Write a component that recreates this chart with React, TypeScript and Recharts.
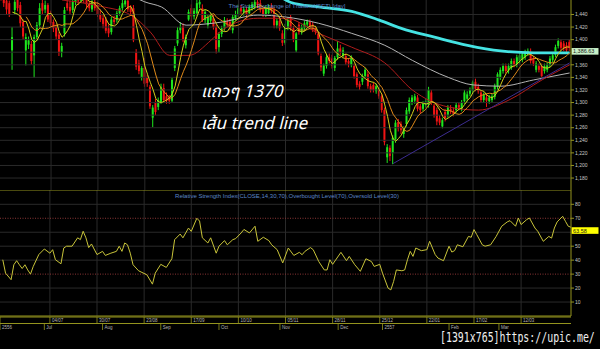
import { ComposedChart, Bar, Line, XAxis, YAxis, ReferenceLine } from "recharts";

// daily SET candles, one entry per trading day
const opens = [
  1480, 1470, 1462, 1458, 1383, 1447, 1465, 1455, 1428, 1383,
  1392, 1393, 1375, 1404, 1423, 1458, 1448, 1455, 1442, 1428,
  1420, 1408, 1380, 1410, 1458, 1452, 1447, 1460, 1468, 1462,
  1470, 1465, 1456, 1448, 1460, 1455, 1440, 1434, 1432, 1418,
  1412, 1432, 1431, 1442, 1450, 1456, 1462, 1450, 1450, 1380,
  1362, 1339, 1355, 1340, 1325, 1276, 1301, 1293, 1301, 1323,
  1310, 1308, 1303, 1355, 1394, 1415, 1421, 1391, 1432, 1450,
  1437, 1442, 1456, 1450, 1431, 1423, 1430, 1434, 1420, 1388,
  1409, 1418, 1430, 1428, 1415, 1434, 1440, 1450, 1444, 1448,
  1442, 1450, 1452, 1460, 1458, 1448, 1440, 1442, 1452, 1447,
  1423, 1430, 1410, 1395, 1420, 1436, 1418, 1383, 1424, 1412,
  1418, 1424, 1428, 1424, 1418, 1409, 1374, 1346, 1358, 1372,
  1370, 1355, 1372, 1386, 1374, 1374, 1366, 1360, 1358, 1345,
  1330, 1333, 1342, 1345, 1326, 1328, 1318, 1320, 1310, 1288,
  1213, 1228, 1220, 1241, 1269, 1266, 1250, 1266, 1286, 1300,
  1303, 1308, 1294, 1290, 1296, 1296, 1316, 1295, 1288, 1275,
  1262, 1285, 1280, 1290, 1287, 1288, 1296, 1290, 1302, 1306,
  1314, 1318, 1333, 1325, 1316, 1304, 1308, 1302, 1304, 1309,
  1325, 1340, 1350, 1358, 1351, 1355, 1366, 1361, 1366, 1368,
  1372, 1378, 1380, 1370, 1352, 1358, 1358, 1350, 1352, 1360,
  1368, 1376, 1390, 1396, 1394, 1391, 1396,
];
const highs = [
  1495, 1482, 1470, 1462, 1420, 1470, 1475, 1460, 1432, 1410,
  1405, 1398, 1408, 1428, 1458, 1465, 1462, 1458, 1446, 1432,
  1424, 1412, 1395, 1452, 1466, 1462, 1468, 1475, 1478, 1480,
  1478, 1470, 1462, 1464, 1466, 1460, 1448, 1440, 1436, 1424,
  1436, 1438, 1446, 1454, 1465, 1468, 1466, 1455, 1455, 1385,
  1368, 1358, 1371, 1345, 1328, 1296, 1306, 1308, 1330, 1330,
  1316, 1312, 1340, 1390, 1420, 1428, 1426, 1408, 1448, 1456,
  1450, 1465, 1466, 1456, 1448, 1440, 1442, 1440, 1424, 1412,
  1422, 1436, 1434, 1433, 1440, 1446, 1456, 1455, 1452, 1452,
  1456, 1460, 1468, 1465, 1464, 1452, 1454, 1456, 1458, 1452,
  1434, 1434, 1415, 1425, 1436, 1440, 1422, 1412, 1428, 1424,
  1430, 1432, 1432, 1428, 1422, 1412, 1378, 1362, 1376, 1378,
  1376, 1374, 1398, 1392, 1388, 1378, 1370, 1375, 1362, 1348,
  1334, 1346, 1356, 1350, 1330, 1332, 1330, 1324, 1314, 1292,
  1234, 1232, 1248, 1272, 1274, 1270, 1262, 1292, 1308, 1312,
  1314, 1312, 1298, 1302, 1306, 1325, 1320, 1298, 1292, 1280,
  1276, 1290, 1296, 1296, 1292, 1300, 1300, 1304, 1320, 1318,
  1324, 1335, 1338, 1330, 1320, 1316, 1312, 1312, 1314, 1330,
  1348, 1356, 1362, 1362, 1362, 1370, 1370, 1376, 1379, 1380,
  1384, 1386, 1386, 1374, 1366, 1362, 1362, 1362, 1364, 1374,
  1378, 1392, 1402, 1400, 1398, 1396, 1400,
];
const lows = [
  1462, 1452, 1440, 1436, 1352, 1440, 1445, 1420, 1400, 1359,
  1385, 1360, 1339, 1398, 1418, 1440, 1442, 1428, 1422, 1412,
  1400, 1374, 1372, 1405, 1446, 1440, 1442, 1455, 1455, 1458,
  1458, 1450, 1445, 1444, 1446, 1436, 1428, 1418, 1410, 1404,
  1408, 1424, 1427, 1438, 1446, 1452, 1444, 1440, 1396, 1352,
  1345, 1335, 1325, 1325, 1290, 1261, 1280, 1288, 1298, 1300,
  1298, 1298, 1300, 1350, 1390, 1410, 1396, 1386, 1430, 1425,
  1432, 1438, 1450, 1428, 1426, 1418, 1426, 1416, 1378, 1380,
  1404, 1414, 1420, 1415, 1410, 1430, 1436, 1440, 1438, 1434,
  1438, 1446, 1448, 1450, 1443, 1436, 1436, 1438, 1442, 1418,
  1418, 1414, 1390, 1392, 1415, 1414, 1396, 1380, 1408, 1408,
  1414, 1420, 1416, 1412, 1408, 1375, 1350, 1342, 1354, 1362,
  1354, 1350, 1368, 1376, 1370, 1360, 1356, 1356, 1338, 1324,
  1320, 1328, 1338, 1322, 1316, 1316, 1314, 1306, 1284, 1232,
  1204, 1207, 1202, 1236, 1254, 1250, 1244, 1262, 1282, 1296,
  1298, 1286, 1282, 1286, 1292, 1292, 1296, 1276, 1264, 1264,
  1259, 1270, 1276, 1282, 1278, 1284, 1288, 1286, 1298, 1302,
  1310, 1314, 1318, 1314, 1300, 1300, 1293, 1298, 1300, 1305,
  1320, 1336, 1346, 1346, 1346, 1352, 1356, 1356, 1362, 1364,
  1368, 1374, 1362, 1358, 1348, 1348, 1338, 1346, 1348, 1356,
  1364, 1372, 1386, 1383, 1382, 1380, 1382,
];
const closes = [
  1468, 1458, 1448, 1440, 1404, 1460, 1450, 1426, 1405, 1404,
  1399, 1366, 1404, 1423, 1450, 1446, 1455, 1432, 1426, 1418,
  1405, 1380, 1390, 1447, 1450, 1445, 1460, 1468, 1462, 1470,
  1465, 1456, 1450, 1460, 1450, 1440, 1432, 1425, 1414, 1410,
  1432, 1428, 1442, 1450, 1458, 1462, 1448, 1444, 1399, 1357,
  1350, 1355, 1330, 1331, 1294, 1292, 1285, 1304, 1325, 1304,
  1303, 1303, 1336, 1386, 1415, 1420, 1399, 1404, 1444, 1437,
  1446, 1458, 1460, 1431, 1444, 1436, 1438, 1420, 1385, 1409,
  1418, 1431, 1424, 1420, 1436, 1440, 1450, 1445, 1448, 1440,
  1452, 1456, 1460, 1455, 1447, 1440, 1450, 1452, 1446, 1423,
  1430, 1418, 1395, 1420, 1430, 1418, 1400, 1410, 1412, 1420,
  1426, 1429, 1420, 1416, 1412, 1378, 1356, 1359, 1372, 1366,
  1358, 1371, 1386, 1380, 1383, 1364, 1362, 1371, 1342, 1328,
  1325, 1342, 1352, 1326, 1320, 1320, 1326, 1310, 1288, 1237,
  1229, 1215, 1244, 1268, 1259, 1256, 1258, 1288, 1304, 1308,
  1310, 1290, 1288, 1298, 1302, 1320, 1300, 1280, 1270, 1268,
  1272, 1275, 1292, 1286, 1282, 1296, 1292, 1300, 1316, 1313,
  1320, 1332, 1322, 1318, 1304, 1312, 1303, 1308, 1310, 1326,
  1345, 1352, 1358, 1350, 1358, 1366, 1360, 1372, 1375, 1377,
  1380, 1382, 1366, 1362, 1362, 1352, 1342, 1358, 1360, 1370,
  1375, 1388, 1398, 1387, 1386, 1383, 1386.63,
];

// longer averages: [day index, value]
const ma25Points: [number, number][] = [
  [22, 1463], [36, 1453], [47, 1439], [54, 1412], [61, 1375], [68, 1375], [76, 1399],
  [80, 1415], [93, 1434], [103, 1434], [115, 1410], [127, 1388], [139, 1363],
  [149, 1320], [162, 1293], [173, 1288], [184, 1304], [196, 1336], [206, 1360],
];
const ma75Points: [number, number][] = [
  [48, 1468], [52, 1460], [58, 1452], [67, 1423], [72, 1424], [80, 1428], [93, 1439],
  [103, 1436], [115, 1426], [127, 1410], [139, 1391], [149, 1367], [162, 1340],
  [171, 1328], [181, 1326], [193, 1336], [206, 1347],
];
const ma200Points: [number, number][] = [
  [100, 1472], [105, 1459], [115, 1452], [127, 1445], [137, 1431], [145, 1418],
  [157, 1404], [169, 1391], [181, 1382], [193, 1379], [206, 1379],
];
const trendPoints: [number, number][] = [[142, 1203], [206, 1363]];

const rsiPoints: [number, number][] = [
  [1, 40.3], [2, 30.7], [4, 26], [5, 36.7], [6, 39.6], [7, 36.7], [8, 34], [9, 36.7],
  [10, 33], [11, 30], [12, 35.5], [14, 44], [16, 48], [18, 45], [19, 47.5], [20, 40.3],
  [22, 37.4], [23, 48.7], [24, 50], [26, 50], [28, 56], [29, 54.7], [30, 60.7], [31, 56],
  [32, 49], [33, 51.6], [35, 44], [37, 46.3], [38, 43.4], [40, 45], [42, 46.3], [43, 50],
  [44, 46.3], [45, 52.3], [46, 51], [47, 45], [48, 36.7], [50, 32.4], [53, 29.5],
  [55, 22.8], [56, 30.7], [58, 37], [60, 34.8], [62, 41], [63, 54.7], [65, 58.7],
  [66, 56], [67, 59.5], [68, 63], [69, 60.6], [71, 70], [72, 68], [73, 56], [75, 52.3],
  [76, 56], [78, 45], [79, 50], [81, 54], [82, 51], [84, 54.7], [85, 55.4], [87, 59.5],
  [88, 62], [90, 59.5], [92, 64.3], [93, 53.5], [95, 56.4], [97, 54], [98, 51],
  [100, 47.5], [102, 38], [104, 48.7], [106, 43.4], [108, 45.6], [109, 43.9], [110, 46.3],
  [112, 49], [113, 47.5], [115, 39], [117, 33], [118, 33], [119, 40.3], [120, 37],
  [123, 45.6], [125, 39.6], [126, 42.7], [128, 36.7], [130, 32], [132, 41], [134, 39],
  [135, 35.5], [137, 37], [138, 30.7], [140, 20], [141, 18.7], [142, 24.7], [143, 33],
  [145, 32.4], [146, 33], [147, 40.3], [148, 46.3], [149, 42.7], [150, 48.7], [152, 46.8],
  [154, 47.5], [155, 53.5], [157, 44], [158, 41.5], [160, 39.6], [162, 50], [163, 45.8],
  [164, 46.8], [165, 51], [167, 49.6], [169, 57], [170, 56.4], [171, 61.9], [172, 58.3],
  [174, 51], [175, 50], [177, 51], [179, 57], [181, 64.3], [183, 67.4], [184, 68.3],
  [186, 64.3], [187, 70.2], [188, 65.5], [190, 69], [191, 70.2], [193, 63], [194, 60.7],
  [196, 53.5], [198, 57], [199, 55.8], [200, 63], [201, 67.4], [203, 71.4], [204, 67.8],
  [205, 64.3], [206, 63.58],
];

const priceTicks = [1180, 1200, 1220, 1240, 1260, 1280, 1300, 1320, 1340, 1360, 1380, 1400, 1420, 1440];
const rsiTicks = [10, 20, 30, 40, 50, 60, 70, 80];
const rsiLevels = [30, 70];
const dayTickIdx = [0, 18, 35, 52, 69, 86, 103, 120, 137, 154, 171, 188];
const dayLabels = ["", "04/07", "30/07", "23/08", "17/09", "10/10", "05/11", "28/11", "25/12", "22/01", "17/02", "12/03"];
const monthTickIdx = [0, 16, 37, 58, 79, 101, 122, 138, 162, 180];
const monthLabels = ["2556", "Jul", "Aug", "Sep", "Oct", "Nov", "Dec", "2557", "Feb", "Mar"];

const lastClose = closes[closes.length - 1];
const lastRsi = rsiPoints[rsiPoints.length - 1][1];

// the last-value tags sit over one axis label in each panel
const priceTickLabels = priceTicks.filter((v) => Math.abs(v - lastClose) > 10);
const rsiTickLabels = rsiTicks.filter((v) => Math.abs(v - lastRsi) > 5);

const AXIS = "#94941e";
const GRID = "#2a2a2a";
const UP = "#1ee61e";
const DOWN = "#f01414";
const FONT = "'Liberation Sans', Arial, sans-serif";

function sma(src: number[], n: number) {
  return src.map((_, i) => (i < n - 1 ? null : src.slice(i - n + 1, i + 1).reduce((a, b) => a + b, 0) / n));
}

const ma5 = sma(closes, 5);
const ma10 = sma(closes, 10);
const ma25 = new Map(ma25Points);
const ma75 = new Map(ma75Points);
const ma200 = new Map(ma200Points);
const trend = new Map(trendPoints);
const rsi = new Map(rsiPoints);

const priceData = closes.map((c, i) => ({
  i,
  open: opens[i],
  high: highs[i],
  low: lows[i],
  close: c,
  ma5: ma5[i],
  ma10: ma10[i],
  ma25: ma25.get(i) ?? null,
  ma75: ma75.get(i) ?? null,
  ma200: ma200.get(i) ?? null,
  trend: trend.get(i) ?? null,
}));
const rsiData = closes.map((_, i) => ({ i, rsi: rsi.get(i) ?? null }));

const dayLabelAt = new Map(dayTickIdx.map((d, k) => [d, dayLabels[k]]));
const monthLabelAt = new Map(monthTickIdx.map((d, k) => [d, monthLabels[k]]));

function Candle(props: any) {
  const { x, y, width, height, payload } = props;
  if (x == null || !payload) return null;
  const top = Math.min(y, y + height);
  const h = Math.abs(height);
  const { open, close, high, low } = payload;
  const k = h / (high - low || 1);
  const color = close >= open ? UP : DOWN;
  const bodyTop = top + (high - Math.max(open, close)) * k;
  const bodyH = Math.max(1, Math.abs(close - open) * k);
  return (
    <g>
      <rect x={x + width / 2 - 0.5} y={top} width={1} height={h} fill={color} />
      <rect x={x} y={bodyTop} width={width} height={bodyH} fill={color} />
    </g>
  );
}

function RowTick(props: any, labels: Map<number, string>) {
  const { x, y, payload } = props;
  return (
    <g>
      <line x1={x} x2={x} y1={y} y2={y + 6.5} stroke={AXIS} strokeWidth={0.8} />
      <text x={x + 2} y={y + 5.2} fontSize={4.5} fill="#b4b4b4" fontFamily={FONT}>
        {labels.get(payload.value) ?? ""}
      </text>
    </g>
  );
}

function ValueTag(props: any, text: string, bg: string) {
  const vb = props.viewBox;
  if (!vb) return null;
  const left = vb.x + vb.width;
  return (
    <g>
      <rect x={left + 0.5} y={vb.y} width={27} height={6.6} fill={bg} />
      <text x={left + 2} y={vb.y + 5.3} fontSize={5.5} fill="#1a1a1a" fontFamily={FONT}>
        {text}
      </text>
    </g>
  );
}

export default function App() {
  const axisTick = { fill: "#c8c8c8", fontSize: 5, fontFamily: FONT };
  return (
    <div style={{ position: "relative", width: 600, height: 349, background: "#000", overflow: "hidden" }}>
      <style>{"body{margin:0;background:#000}"}</style>

      <div style={{ position: "absolute", left: 0, top: 0 }}>
        <ComposedChart width={600} height={190} data={priceData} margin={{ top: 0, right: 0, bottom: 0, left: 0 }} barSize={2}>
          <XAxis dataKey="i" hide />
          <YAxis
            orientation="right"
            width={29}
            domain={[1161, 1463]}
            allowDataOverflow
            ticks={priceTickLabels}
            interval={0}
            tickFormatter={(v: number) => v.toLocaleString("en-US")}
            tick={axisTick}
            tickSize={3}
            tickMargin={1}
            axisLine={{ stroke: AXIS }}
            tickLine={{ stroke: AXIS }}
          />
          {priceTicks.map((v) => (
            <ReferenceLine key={"h" + v} y={v} stroke={GRID} />
          ))}
          {dayTickIdx.slice(1).map((d) => (
            <ReferenceLine key={d} x={d} stroke={GRID} />
          ))}
          <Bar dataKey={(d: any) => [d.low, d.high]} shape={(p: any) => <Candle {...p} />} isAnimationActive={false} />
          <Line dataKey="ma200" type="monotone" stroke="#45e3e3" strokeWidth={2.8} dot={false} connectNulls isAnimationActive={false} />
          <Line dataKey="ma75" type="monotone" stroke="#b4b4b4" strokeWidth={1} dot={false} connectNulls isAnimationActive={false} />
          <Line dataKey="ma25" type="monotone" stroke="#b01c1c" strokeWidth={1} dot={false} connectNulls isAnimationActive={false} />
          <Line dataKey="trend" type="linear" stroke="#3c2c90" strokeWidth={1} dot={false} connectNulls isAnimationActive={false} />
          <Line dataKey="ma10" type="linear" stroke="#e08a1a" strokeWidth={1} dot={false} isAnimationActive={false} />
          <Line dataKey="ma5" type="linear" stroke="#d4cc1c" strokeWidth={1} dot={false} isAnimationActive={false} />
          <ReferenceLine
            y={lastClose}
            stroke="none"
            label={(p: any) => ValueTag(p, lastClose.toLocaleString("en-US", { minimumFractionDigits: 2 }), "#c8f0c8")}
          />
        </ComposedChart>
      </div>

      <div style={{ position: "absolute", left: 0, top: 190 }}>
        <ComposedChart width={600} height={140} data={rsiData} margin={{ top: 0, right: 0, bottom: 0, left: 0 }}>
          <XAxis
            xAxisId="d"
            dataKey="i"
            ticks={dayTickIdx}
            interval={0}
            height={6.5}
            tickSize={0}
            tickMargin={0}
            axisLine={{ stroke: AXIS }}
            tick={(p: any) => RowTick(p, dayLabelAt)}
          />
          <XAxis
            xAxisId="m"
            dataKey="i"
            ticks={monthTickIdx}
            interval={0}
            height={6.5}
            tickSize={0}
            tickMargin={0}
            axisLine={{ stroke: AXIS }}
            tick={(p: any) => RowTick(p, monthLabelAt)}
          />
          <XAxis xAxisId="b" dataKey="i" height={1} tick={false} tickLine={false} axisLine={{ stroke: AXIS }} />
          <YAxis
            orientation="right"
            width={29}
            domain={[0, 90.25]}
            allowDataOverflow
            ticks={rsiTickLabels}
            interval={0}
            tick={axisTick}
            tickSize={3}
            tickMargin={1}
            axisLine={{ stroke: AXIS }}
            tickLine={{ stroke: AXIS }}
          />
          {rsiTicks.filter((v) => !rsiLevels.includes(v)).map((v) => (
            <ReferenceLine key={v} xAxisId="d" y={v} stroke={GRID} />
          ))}
          {dayTickIdx.slice(1).map((d) => (
            <ReferenceLine key={"v" + d} xAxisId="d" x={d} stroke={GRID} />
          ))}
          {rsiLevels.map((v) => (
            <ReferenceLine key={"l" + v} xAxisId="d" y={v} stroke="#8a3434" strokeDasharray="1 1.5" />
          ))}
          <ReferenceLine xAxisId="d" y={90.25} stroke={AXIS} />
          <Line xAxisId="d" dataKey="rsi" type="linear" stroke="#c8c43a" strokeWidth={1} dot={false} connectNulls isAnimationActive={false} />
          <ReferenceLine
            xAxisId="d"
            y={lastRsi}
            stroke="none"
            label={(p: any) => ValueTag(p, lastRsi.toFixed(2), "#ffff00")}
          />
        </ComposedChart>
      </div>

      <svg width={600} height={349} style={{ position: "absolute", left: 0, top: 0, pointerEvents: "none" }}>
        <text x={287} y={7.5} textAnchor="middle" fontSize={6} fill="#5b86c8" fontFamily={FONT}>
          The Stock Exchange of Thailand(SET) [day]
        </text>
        <text x={287} y={197.5} textAnchor="middle" fontSize={6} fill="#5b86c8" fontFamily={FONT}>
          Relative Strength Index(CLOSE,14,30,70),Overbought Level(70),Oversold Level(30)
        </text>
        <text x={201} y={97} fontSize={17} fontStyle="italic" fill="#ffffff" fontFamily="'Noto Sans Thai', 'Noto Sans', 'DejaVu Sans', sans-serif">
          แถวๆ 1370
        </text>
        <text x={201} y={129} fontSize={17} fontStyle="italic" fill="#ffffff" fontFamily="'Noto Sans Thai', 'Noto Sans', 'DejaVu Sans', sans-serif">
          เส้น trend line
        </text>
        <g transform="translate(440,342) scale(1,1.4)">
          <text x={0} y={0} fontSize={9.9} fill="#f0f0f0" fontFamily="'DejaVu Sans Mono', monospace">
            [1391x765]https://upic.me/
          </text>
        </g>
      </svg>
    </div>
  );
}
